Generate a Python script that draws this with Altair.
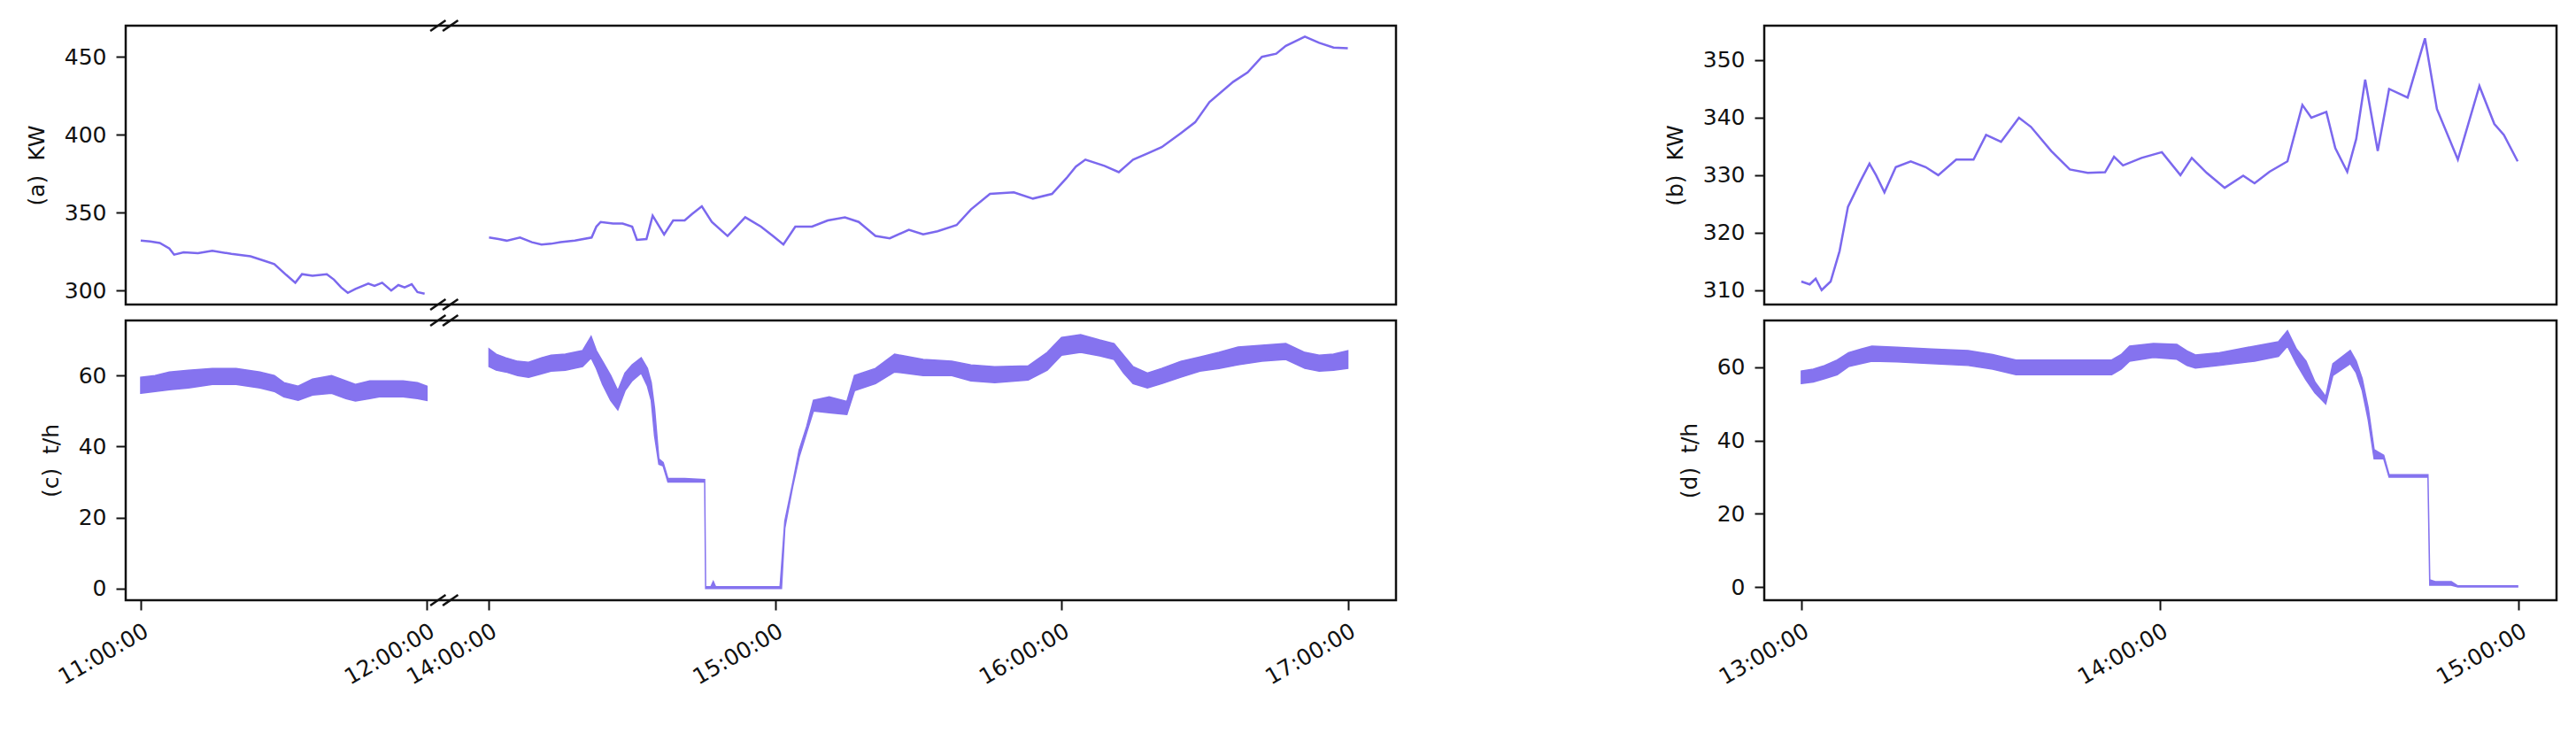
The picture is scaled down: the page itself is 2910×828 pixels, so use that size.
import altair as alt
import pandas as pd

# ---------------- data ----------------
# (a) power, KW. Segment 1: minutes after 11:00, segment 2: minutes after 14:00
A1_T = [0, 2, 4, 6, 7, 9, 12, 15, 19, 23, 26, 28, 30.5, 32.4, 33.8, 36, 39, 40.5, 42, 43.4,
        45, 47.7, 49, 50.6, 52.5, 54, 55.3, 56.8, 58, 59.5]
A1_V = [332, 331.5, 330.5, 327, 323, 324.5, 324, 325.5, 323.5, 322, 319, 317, 310, 305, 310.5,
        309.5, 310.5, 307, 302, 298.5, 301, 304.5, 303, 305, 300, 303.5, 302, 304, 299, 298]
A2_T = [0, 2, 3.7, 6.5, 9, 11, 13, 15, 18, 21.5, 22.5, 23.4, 26, 28, 30, 31, 33, 34.3, 36.7,
        38.6, 41, 42.5, 44.6, 46.7, 50, 53.7, 57, 59.5, 61.7, 64.2, 67.7, 71, 74.6, 77.5, 81,
        84, 88, 91, 94, 98, 101, 105, 110, 114, 118, 121, 123, 125, 129, 132, 135, 138, 141,
        145, 148, 151, 156, 159, 162, 165, 167, 169, 171, 174, 177, 180]
A2_V = [334, 333, 332, 334, 331, 329.5, 330, 331, 332, 334, 341, 344, 343, 343, 341, 332.5, 333,
        348, 336, 345, 345, 349, 354, 344, 335, 347, 341, 335, 329.5, 341, 341, 345, 347, 344,
        335, 333.5, 339, 336, 338, 342, 352, 362, 363, 359, 362, 372, 379.5, 384, 380, 376,
        384, 388, 392, 401, 408, 421, 434, 440, 450, 452, 457, 460, 463, 459, 456, 455.5]

# (c) flow, t/h: lower and upper edge of the oscillating band
C1_T = [0, 3, 6, 10, 15, 20, 25, 28, 30, 33, 36, 40, 43, 45, 48, 50, 53, 55, 58, 60]
C1_HI = [59.5, 60, 61, 61.5, 62, 62, 61, 60, 58, 57, 59, 60, 58.5, 57.5, 58.5, 58.5, 58.5, 58.5, 58, 57]
C1_LO = [55, 55.5, 56, 56.5, 57.5, 57.5, 56.5, 55.5, 54, 53, 54.5, 55, 53.5, 52.8, 53.5, 54, 54, 54, 53.5, 53]
C2_T = [0, 1.5, 3.5, 6, 8.3, 11, 13, 16, 19.6, 21.4, 22.5, 23.8, 25.5, 27, 28.5, 30, 31.9, 33.2,
        34, 34.7, 35.6, 36.5, 37.5, 41, 45.2, 45.4, 46.5, 47, 47.5, 61, 61.3, 62, 63.7, 65,
        66.6, 68, 71.3, 75, 76.6, 81, 85, 91, 97, 101, 106, 113, 117, 120, 124, 128, 131, 133,
        135, 138, 141, 145, 149, 153, 157, 162, 167, 171, 174, 177, 180]
C2_HI = [67.5, 66, 65, 64, 63.7, 65, 65.7, 66, 67, 71, 67, 64, 60, 55.7, 60.7, 63, 65, 62, 58,
         50.7, 36.5, 35.5, 31, 31, 30.7, 0.5, 0.5, 2, 0.5, 0.5, 6, 19, 30, 39, 45.7, 53, 54,
         52.7, 60, 62, 66, 64.5, 64, 63, 62.5, 62.7, 66.5, 70.7, 71.5, 70, 69, 65.7, 62.5,
         60.7, 62, 64, 65.2, 66.5, 68, 68.5, 69, 66.5, 65.7, 66, 67]
C2_LO = [62.5, 61.5, 61, 60, 59.5, 60.5, 61.2, 61.5, 62.5, 65, 62, 57.5, 53, 50.3, 55.7, 58.5,
         60.7, 57, 53, 43, 35, 34.5, 30, 30, 30, 0, 0, 0, 0, 0, 0, 17, 29, 37, 44, 50, 49.5,
         49, 55.7, 57.7, 61, 60, 60, 58.5, 58, 58.7, 61.5, 65.7, 66.5, 65.5, 64.5, 60.7, 57.7,
         56.5, 57.7, 59.5, 61.2, 62, 63, 64, 64.5, 62, 61.2, 61.5, 62]

# (b) power, KW: minutes after 13:00
B_T = [0, 1.4, 2.4, 3.4, 4.9, 6.4, 7.8, 9.9, 11.4, 12.5, 13.9, 15.8, 18.3, 20.8, 22.9, 25.9,
       28.8, 30.9, 33.4, 36.4, 38.4, 41.8, 44.9, 47.9, 50.8, 52.3, 53.8, 56.9, 60.3, 63.4,
       65.3, 67.8, 70.8, 73.9, 75.8, 78.3, 81.3, 83.8, 85.3, 87.8, 89.3, 91.3, 92.8, 94.3,
       96.4, 98.3, 101.4, 104.3, 106.3, 109.8, 113.4, 115.9, 117.5, 119.8]
B_V = [311.5, 311, 312, 310, 311.5, 316.8, 324.5, 329, 332, 330, 327, 331.4, 332.4, 331.4, 330,
       332.7, 332.7, 337, 335.8, 340, 338.4, 334.2, 331, 330.4, 330.5, 333.2, 331.7, 333, 334,
       330, 333, 330.4, 327.8, 329.9, 328.6, 330.6, 332.4, 342.2, 340, 341, 334.7, 330.6,
       336.3, 346.6, 334.2, 345, 343.5, 353.8, 341.5, 332.7, 345.5, 338.9, 337, 332.4]

# (d) flow, t/h: minutes after 13:00, band edges
D_T = [0, 2, 3.9, 6, 7.9, 10, 11.8, 16, 21.8, 27.9, 32, 35.9, 43.9, 51.9, 53.5, 54.9, 58.9,
       62.8, 64.5, 65.9, 69.9, 75.8, 79.8, 81.3, 82.8, 84.4, 85.9, 87.7, 88.9, 91.8, 92.8,
       93.8, 94.8, 95.8, 97.4, 98.3, 104.8, 105.1, 106, 108.7, 109.8, 119.8]
D_HI = [59, 59.5, 60.5, 62, 64, 65, 65.8, 65.5, 65, 64.6, 63.5, 62, 62, 62, 63.5, 65.8, 66.5,
        66.3, 64.5, 63.4, 64, 65.8, 67, 70, 65, 61.7, 56, 52, 61, 64.6, 61.7, 56.9, 49, 37.5,
        36, 30.7, 30.7, 2, 1.5, 1.5, 0.3, 0.3]
D_LO = [55.6, 56, 56.9, 58, 60.2, 61, 61.7, 61.5, 61, 60.5, 59.5, 58, 58, 58, 59.5, 61.7, 62.7,
        62.2, 60.5, 59.8, 60.5, 61.7, 63, 65.8, 61, 56.6, 53, 50, 57.8, 61, 58.5, 53.7, 45.7,
        35, 35, 30, 30, 0.5, 0.5, 0.5, 0, 0]

LEFT_TICK_LABELS = ["11:00:00", "12:00:00", "14:00:00", "15:00:00", "16:00:00", "17:00:00"]
LEFT_TICK_SEG = [1, 1, 2, 2, 2, 2]
LEFT_TICK_MIN = [0, 60, 0, 60, 120, 180]
RIGHT_TICK_LABELS = ["13:00:00", "14:00:00", "15:00:00"]
RIGHT_TICK_MIN = [0, 60, 120]

# ---------------- layout / style ----------------
GAP = 13                      # axis width given to the 12:00-14:00 break (minutes)
BREAK_V = 63.6
LEFT_DOMAIN = [-3.15, 263.1]
RIGHT_DOMAIN = [-6.2, 126.3]
LW, RW = 1435, 895
H1, H2 = 315, 316
COLOR = "#7B68EE"
FONT = "DejaVu Sans"


def vpos(seg, t):
    return t if seg == 1 else 60 + GAP + t


df_a = pd.DataFrame({
    "v": [vpos(1, t) for t in A1_T] + [vpos(2, t) for t in A2_T],
    "val": A1_V + A2_V,
    "seg": ["1"] * len(A1_T) + ["2"] * len(A2_T),
})
df_c = pd.DataFrame({
    "v": [vpos(1, t) for t in C1_T] + [vpos(2, t) for t in C2_T],
    "lo": C1_LO + C2_LO,
    "hi": C1_HI + C2_HI,
    "seg": ["1"] * len(C1_T) + ["2"] * len(C2_T),
})
df_b = pd.DataFrame({"t": B_T, "val": B_V})
df_d = pd.DataFrame({"t": D_T, "lo": D_LO, "hi": D_HI})
df_brk = pd.DataFrame({"v": [BREAK_V - 1.3, BREAK_V + 1.3]})

left_vals = [vpos(s, m) for s, m in zip(LEFT_TICK_SEG, LEFT_TICK_MIN)]
left_expr = "".join(f"datum.value == {v} ? '{lab}' : " for v, lab in zip(left_vals, LEFT_TICK_LABELS)) + "''"
right_expr = "".join(f"datum.value == {v} ? '{lab}' : " for v, lab in zip(RIGHT_TICK_MIN, RIGHT_TICK_LABELS)) + "''"

xscale_l = alt.Scale(domain=LEFT_DOMAIN, nice=False, zero=False)
xscale_r = alt.Scale(domain=RIGHT_DOMAIN, nice=False, zero=False)


def x_axis(vals, expr):
    return alt.Axis(values=vals, labelExpr=expr, labelAngle=-30, labelAlign="right",
                    labelBaseline="top", labelFlush=False, labelOverlap=False, title=None,
                    domain=False)


def y_axis(title, vals):
    return alt.Axis(title=title, values=vals, domain=False)


def breaks(h):
    marks = []
    for yy in (0, h):
        marks.append(
            alt.Chart(df_brk).mark_point(shape="M -1 0.7 L 1 -0.7", size=300, filled=False,
                                         stroke="#111", strokeWidth=2.5, opacity=1)
            .encode(x=alt.X("v:Q", scale=xscale_l), y=alt.value(yy))
        )
    return marks


# (a)
a_line = alt.Chart(df_a).mark_line(color=COLOR, strokeWidth=2.5).encode(
    x=alt.X("v:Q", scale=xscale_l, axis=None),
    y=alt.Y("val:Q", scale=alt.Scale(domain=[291, 470], nice=False, zero=False),
            axis=y_axis("(a)\u00a0\u00a0KW", [300, 350, 400, 450])),
    detail="seg:N",
)
panel_a = alt.layer(a_line, *breaks(H1)).properties(width=LW, height=H1)

# (c)
c_area = alt.Chart(df_c).mark_area(color=COLOR, opacity=0.92, stroke=COLOR, strokeWidth=1.5).encode(
    x=alt.X("v:Q", scale=xscale_l, axis=x_axis(left_vals, left_expr)),
    y=alt.Y("lo:Q", scale=alt.Scale(domain=[-3.3, 75.5], nice=False, zero=False),
            axis=y_axis("(c)\u00a0\u00a0t/h", [0, 20, 40, 60])),
    y2="hi:Q",
    detail="seg:N",
)
panel_c = alt.layer(c_area, *breaks(H2)).properties(width=LW, height=H2)

# (b)
panel_b = alt.Chart(df_b).mark_line(color=COLOR, strokeWidth=2.5).encode(
    x=alt.X("t:Q", scale=xscale_r, axis=None),
    y=alt.Y("val:Q", scale=alt.Scale(domain=[307.5, 356], nice=False, zero=False),
            axis=y_axis("(b)\u00a0\u00a0KW", [310, 320, 330, 340, 350])),
).properties(width=RW, height=H1)

# (d)
panel_d = alt.Chart(df_d).mark_area(color=COLOR, opacity=0.92, stroke=COLOR, strokeWidth=1.5).encode(
    x=alt.X("t:Q", scale=xscale_r, axis=x_axis(RIGHT_TICK_MIN, right_expr)),
    y=alt.Y("lo:Q", scale=alt.Scale(domain=[-3.6, 72.8], nice=False, zero=False),
            axis=y_axis("(d)\u00a0\u00a0t/h", [0, 20, 40, 60])),
    y2="hi:Q",
).properties(width=RW, height=H2)

chart = (
    alt.concat(panel_a, panel_b, panel_c, panel_d, columns=2,
               spacing={"row": 18, "column": 416}, bounds="flush")
    .properties(padding={"left": 20, "top": 8, "right": 5, "bottom": 5}, background="white")
    .configure_view(stroke="#111", strokeWidth=2.5)
    .configure_axis(
        labelFont=FONT, titleFont=FONT, labelFontSize=25, titleFontSize=25,
        titleFontWeight="normal", labelColor="#111", titleColor="#111",
        tickColor="#111", tickWidth=2, tickSize=11, labelPadding=11, titlePadding=18,
        grid=False,
    )
)

chart.save("out.html", embed_options={"renderer": "svg", "actions": False})
